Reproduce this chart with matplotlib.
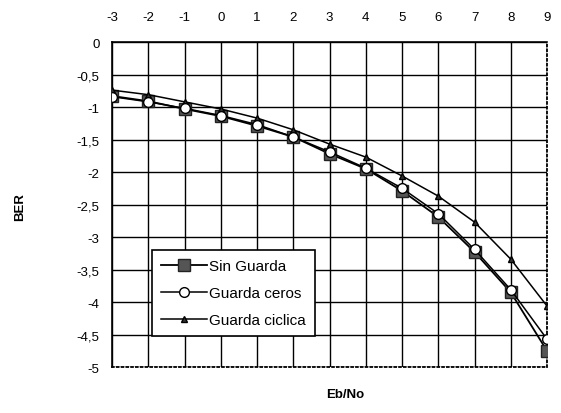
import matplotlib
matplotlib.use('Agg')
import matplotlib.pyplot as plt

plt.rcParams['font.family'] = ['Liberation Sans', 'DejaVu Sans']
plt.rcParams['axes.unicode_minus'] = False

ebno = [-3, -2, -1, 0, 1, 2, 3, 4, 5, 6, 7, 8, 9]
sin_guarda = [-0.83, -0.91, -1.03, -1.14, -1.29, -1.46, -1.72, -1.95, -2.29, -2.69, -3.23, -3.85, -4.75]
guarda_ceros = [-0.84, -0.92, -1.02, -1.13, -1.27, -1.46, -1.69, -1.94, -2.25, -2.64, -3.19, -3.81, -4.57]
guarda_ciclica = [-0.74, -0.81, -0.92, -1.03, -1.17, -1.35, -1.57, -1.77, -2.06, -2.37, -2.77, -3.34, -4.06]
yticks = [0, -0.5, -1, -1.5, -2, -2.5, -3, -3.5, -4, -4.5, -5]
ylabels = ['0', '-0,5', '-1', '-1,5', '-2', '-2,5', '-3', '-3,5', '-4', '-4,5', '-5']

fig = plt.figure(figsize=(5.61, 4.14), dpi=100)
ax = fig.add_axes([0.2, 0.111, 0.775, 0.785])

ax.plot(ebno, sin_guarda, color='black', lw=1.3, marker='s', ms=9,
        mfc='#555555', mec='#222222', label='Sin Guarda', zorder=3)
ax.plot(ebno, guarda_ceros, color='black', lw=1.1, marker='o', ms=7,
        mfc='white', mec='black', label='Guarda ceros', zorder=4)
ax.plot(ebno, guarda_ciclica, color='black', lw=1.1, marker='^', ms=5,
        mfc='#333333', mec='black', label='Guarda ciclica', zorder=3)

ax.set_xlim(-3, 9)
ax.set_ylim(-5, 0)
ax.set_xticks(ebno)
ax.set_yticks(yticks)
ax.set_yticklabels(ylabels)
ax.xaxis.tick_top()
ax.tick_params(axis='both', length=0, labelsize=9.5)
ax.tick_params(axis='x', pad=14)
ax.tick_params(axis='y', pad=9)
ax.grid(True, color='black', lw=1.0)
ax.set_axisbelow(True)

ax.spines['top'].set_linewidth(1.2)
ax.spines['left'].set_linewidth(1.2)
ax.spines['right'].set_linestyle(':')
ax.spines['bottom'].set_linestyle(':')
ax.spines['right'].set_linewidth(1.3)
ax.spines['bottom'].set_linewidth(1.3)

fig.text(0.036, 0.5, 'BER', rotation=90, fontsize=9.5, fontweight='bold',
         ha='center', va='center')
fig.text(0.615, 0.045, 'Eb/No', fontsize=9.5, fontweight='bold',
         ha='center', va='center')

leg = ax.legend(loc='lower left', bbox_to_anchor=(0.092, 0.095), fontsize=11,
                frameon=True, fancybox=False, edgecolor='black',
                borderaxespad=0, handlelength=3.0, handletextpad=0.1,
                labelspacing=0.85, borderpad=0.6)
leg.get_frame().set_linewidth(1.2)
leg.get_frame().set_alpha(1)

fig.savefig('out.png', dpi=100)
